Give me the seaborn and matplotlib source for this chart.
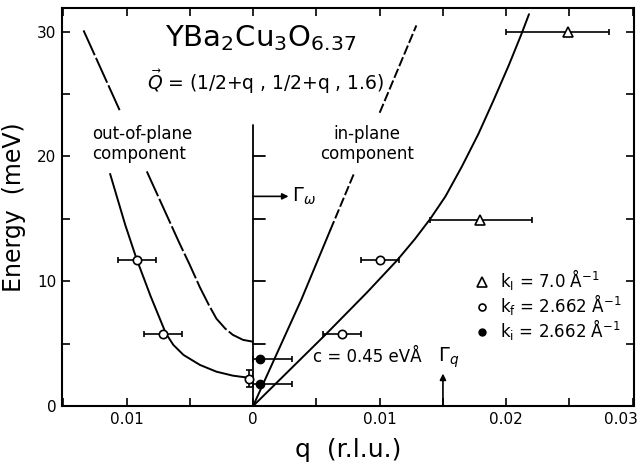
import matplotlib
matplotlib.use("Agg")
import matplotlib.pyplot as plt
from matplotlib.lines import Line2D
from matplotlib.ticker import FuncFormatter, MultipleLocator
from matplotlib.transforms import ScaledTranslation
import seaborn as sns

# ---- data ----
# in-plane component, solid: linear (c = 0.45 eVA) then bending up
inplane_q = [0.0, 0.0030, 0.0058, 0.0090, 0.0114, 0.0128, 0.0140, 0.0152, 0.0165,
             0.0178, 0.0190, 0.0202, 0.0212, 0.0218]
inplane_E = [0.0, 3.0, 5.8, 9.1, 11.7, 13.4, 15.0, 16.8, 19.2,
             21.8, 24.5, 27.3, 29.8, 31.4]

# in-plane, steep branch from the origin (solid part, then dashed, gap for the label)
steep_solid_q = [0.0, 0.0038, 0.0061]
steep_solid_E = [0.0, 8.5, 14.1]
steep_dash_lo_q = [0.0061, 0.0080]
steep_dash_lo_E = [14.1, 18.7]
steep_dash_hi_q = [0.0100, 0.0129]
steep_dash_hi_E = [23.5, 30.5]

# out-of-plane component, solid curve through the data
outplane_q = [-0.0113, -0.0101, -0.0092, -0.0081, -0.0069, -0.0063, -0.0055,
              -0.0042, -0.0029, -0.0016, -0.0004, 0.0]
outplane_E = [18.6, 14.5, 11.76, 8.8, 5.83, 4.89, 4.09,
              3.29, 2.75, 2.43, 2.27, 2.25]

# out-of-plane, dashed curve (interrupted by the label)
outdash_hi_q = [-0.0134, -0.0105]
outdash_hi_E = [30.1, 23.6]
outdash_lo_q = [-0.0084, -0.0071, -0.0058, -0.0050, -0.0042, -0.0035, -0.0029,
                -0.0022, -0.0016, -0.0008, 0.0]
outdash_lo_E = [18.8, 15.9, 13.0, 11.3, 9.5, 8.1, 7.0,
                6.2, 5.7, 5.3, 5.15]

# triangles, k_I = 7.0 1/A
tri_q = [0.0249, 0.0179]
tri_E = [30.0, 14.9]
tri_xerr_lo = [0.0049, 0.0039]
tri_xerr_hi = [0.0032, 0.0041]

# open circles, k_f = 2.662 1/A
open_q = [-0.0092, -0.0071, 0.0070, 0.0100]
open_E = [11.7, 5.8, 5.75, 11.7]
open_xerr = [0.0015, 0.0015, 0.0015, 0.0015]
open0_q = [-0.0003]
open0_E = [2.2]
open0_yerr = [0.7]

# filled circles, k_i = 2.662 1/A
full_q = [0.00055, 0.00055]
full_E = [3.75, 1.76]
full_xerr_lo = [0.00055, 0.00055]
full_xerr_hi = [0.0025, 0.0025]

# vertical marker line at q = 0 with its own ticks
vline_top = 22.5
vline_ticks = [5, 10, 15, 20]

gamma_w_E = 16.8
gamma_q_q = 0.015

x_major = [-0.01, 0.0, 0.01, 0.02, 0.03]
y_major = [0, 10, 20, 30]

# ---- style ----
sns.set_style("ticks", {"xtick.direction": "in", "ytick.direction": "in"})
plt.rcParams.update({
    "font.family": ["DejaVu Sans"],
    "axes.linewidth": 1.5,
    "axes.edgecolor": "black",
    "text.color": "black",
    "axes.labelcolor": "black",
    "xtick.color": "black",
    "ytick.color": "black",
})

fig = plt.figure(figsize=(6.42, 4.74), dpi=100)
ax = fig.add_axes([0.0966, 0.1435, 0.891, 0.8397])

lw = 1.4
solid = dict(color="black", lw=lw, sort=False, estimator=None, ax=ax)
sns.lineplot(x=inplane_q, y=inplane_E, **solid)
sns.lineplot(x=steep_solid_q, y=steep_solid_E, **solid)
sns.lineplot(x=outplane_q, y=outplane_E, **solid)
for xs, ys in [(steep_dash_lo_q, steep_dash_lo_E), (steep_dash_hi_q, steep_dash_hi_E)]:
    sns.lineplot(x=xs, y=ys, ls=(0, (5, 1.5)), **solid)
for xs, ys in [(outdash_hi_q, outdash_hi_E), (outdash_lo_q, outdash_lo_E)]:
    sns.lineplot(x=xs, y=ys, ls=(0, (14, 1.5)), **solid)

# q = 0 line with ticks pointing right
ax.plot([0, 0], [0, vline_top], color="black", lw=1.3)
for t in vline_ticks:
    ax.plot([0, 0.0009], [t, t], color="black", lw=1.3)

eb = dict(color="black", ecolor="black", elinewidth=1.2, capsize=2.5, capthick=1.2,
          ls="none", zorder=4)
ax.errorbar(tri_q, tri_E, xerr=[tri_xerr_lo, tri_xerr_hi], marker="^", ms=6.5,
            mfc="white", mec="black", mew=1.2, **eb)
ax.errorbar(open_q, open_E, xerr=open_xerr, marker="o", ms=6,
            mfc="white", mec="black", mew=1.2, **eb)
ax.errorbar(open0_q, open0_E, yerr=open0_yerr, marker="o", ms=6,
            mfc="white", mec="black", mew=1.2, **eb)
ax.errorbar(full_q, full_E, xerr=[full_xerr_lo, full_xerr_hi], marker="o", ms=6,
            mfc="black", mec="black", **eb)

# arrows
arrow = dict(arrowstyle="-|>", color="black", lw=1.2, mutation_scale=9,
             shrinkA=0, shrinkB=0)
ax.annotate("", xy=(0.0028, gamma_w_E), xytext=(0.0, gamma_w_E), arrowprops=arrow)
ax.text(0.0031, gamma_w_E, r"$\Gamma_\omega$", va="center", ha="left", fontsize=14)
ax.annotate("", xy=(gamma_q_q, 2.6), xytext=(gamma_q_q, 0.0), arrowprops=arrow)
ax.text(gamma_q_q - 0.0004, 3.85, r"$\Gamma_q$", va="center", ha="left", fontsize=14)

# labels inside the plot
ax.text(0.0006, 28.8, r"YBa$_2$Cu$_3$O$_{6.37}$", ha="center", va="baseline", fontsize=21)
ax.text(0.0010, 25.3, r"$\vec{Q}$ = (1/2+q , 1/2+q , 1.6)", ha="center", va="baseline",
        fontsize=13.5)
ax.text(-0.0127, 21.0, "out-of-plane\ncomponent", ha="left", va="center",
        fontsize=12, linespacing=1.1)
ax.text(0.0090, 21.0, "in-plane\ncomponent", ha="center", va="center",
        fontsize=12, linespacing=1.1)
ax.text(0.0047, 3.9, "c = 0.45 eVÅ", ha="left", va="center", fontsize=12)

handles = [
    Line2D([], [], marker="^", ls="none", ms=6.5, mfc="white", mec="black", mew=1.2),
    Line2D([], [], marker="o", ls="none", ms=5, mfc="white", mec="black", mew=1.2),
    Line2D([], [], marker="o", ls="none", ms=5, mfc="black", mec="black"),
]
labels = [r"k$_\mathrm{I}$ = 7.0 Å$^{-1}$", r"k$_\mathrm{f}$ = 2.662 Å$^{-1}$",
          r"k$_\mathrm{i}$ = 2.662 Å$^{-1}$"]
ax.legend(handles, labels, loc="upper left", bbox_to_anchor=(0.708, 0.365),
          frameon=False, fontsize=12, handlelength=1.0, handletextpad=0.6,
          labelspacing=0.0, borderaxespad=0)

ax.set_xlim(-0.0151, 0.0301)
ax.set_ylim(0, 31.9)
ax.set_xticks(x_major)
ax.xaxis.set_minor_locator(MultipleLocator(0.005))
ax.set_yticks(y_major)
ax.yaxis.set_minor_locator(MultipleLocator(5))
ax.xaxis.set_major_formatter(FuncFormatter(lambda v, p: "0" if abs(v) < 1e-9 else f"{abs(v):.2f}"))
ax.tick_params(which="both", top=True, right=True, direction="in", length=6,
               width=1.2, labelsize=11, pad=4)

ax.set_xlabel("q  (r.l.u.)", fontsize=18, labelpad=8)
ax.set_ylabel("Energy  (meV)", fontsize=17, labelpad=8)
for s in ax.spines.values():
    s.set_visible(True)

# keep the last x label inside the figure, as in the scan
fig.canvas.draw()
last = ax.xaxis.get_major_ticks()[-1].label1
last.set_horizontalalignment("right")
last.set_transform(last.get_transform() + ScaledTranslation(4 / 72, 0, fig.dpi_scale_trans))

fig.savefig("out.png", dpi=100)
